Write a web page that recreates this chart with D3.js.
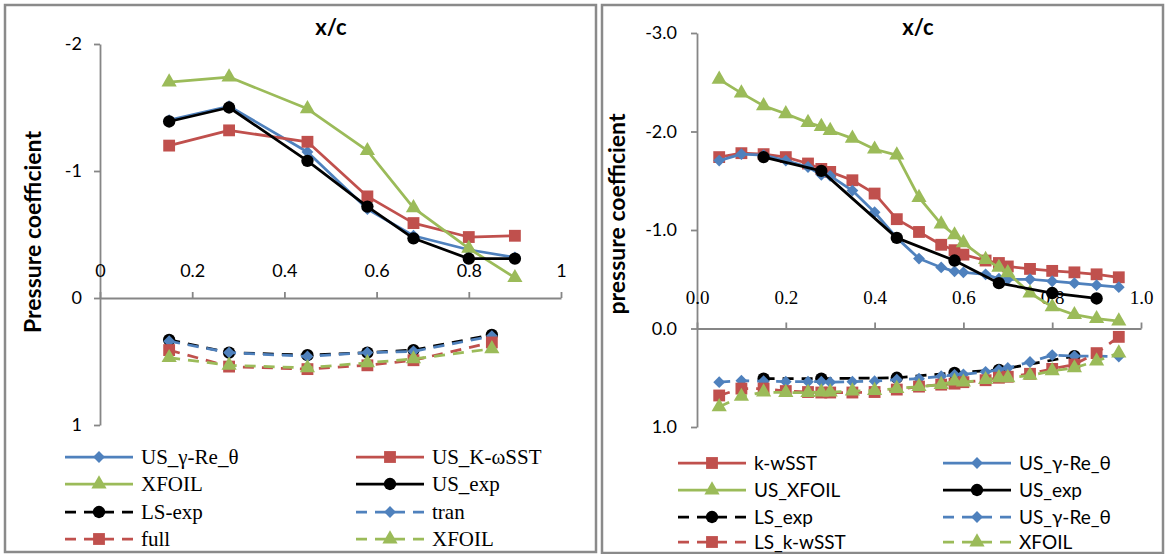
<!DOCTYPE html>
<html>
<head>
<meta charset="utf-8">
<script src="https://cdn.jsdelivr.net/npm/d3@7"></script>
<style>
  body { margin: 0; background: #fff; }
  svg { display: block; }
</style>
</head>
<body>
<svg id="chart" width="1166" height="554"></svg>
<script>
// ---- left chart data (x/c, pressure coefficient) ----
const leftUpperX = [0.15, 0.28, 0.45, 0.58, 0.68, 0.80, 0.90];
const leftLowerX = [0.15, 0.28, 0.45, 0.58, 0.68, 0.85];
const leftUsGamma = [-1.40, -1.51, -1.15, -0.70, -0.49, -0.38, -0.32];
const leftUsKw = [-1.20, -1.32, -1.23, -0.80, -0.59, -0.48, -0.49];
const leftXfoil = [-1.70, -1.74, -1.49, -1.16, -0.71, -0.39, -0.16];
const leftUsExp = [-1.39, -1.50, -1.08, -0.72, -0.47, -0.31, -0.31];
const leftLsExp = [0.33, 0.43, 0.45, 0.43, 0.41, 0.29];
const leftTran = [0.34, 0.43, 0.46, 0.43, 0.42, 0.30];
const leftFull = [0.41, 0.54, 0.56, 0.53, 0.49, 0.35];
const leftXfoilLower = [0.47, 0.53, 0.55, 0.51, 0.48, 0.40];
const leftXTicks = [0, 0.2, 0.4, 0.6, 0.8, 1];
const leftYTicks = [-2, -1, 0, 1];

// ---- right chart data ----
const rightX = [0.05, 0.10, 0.15, 0.20, 0.25, 0.28, 0.30, 0.35, 0.40, 0.45, 0.50,
                0.55, 0.58, 0.60, 0.65, 0.68, 0.70, 0.75, 0.80, 0.85, 0.90, 0.95];
const rightExpX = [0.15, 0.28, 0.45, 0.58, 0.68, 0.80, 0.90];
const rightLsExpX = [0.15, 0.28, 0.45, 0.58, 0.68, 0.85];
const rightKw = [-1.74, -1.78, -1.77, -1.74, -1.675, -1.62, -1.59, -1.505, -1.37, -1.11, -0.98,
                 -0.85, -0.795, -0.75, -0.69, -0.665, -0.63, -0.605, -0.585, -0.57, -0.55, -0.52];
const rightUsGamma = [-1.705, -1.77, -1.76, -1.705, -1.64, -1.56, -1.55, -1.40, -1.18, -0.92, -0.71,
                      -0.62, -0.58, -0.57, -0.55, -0.505, -0.50, -0.50, -0.48, -0.46, -0.44, -0.42];
const rightUsXfoil = [-2.53, -2.39, -2.26, -2.18, -2.09, -2.05, -2.01, -1.93, -1.82, -1.76, -1.33,
                      -1.06, -0.95, -0.87, -0.70, -0.62, -0.565, -0.36, -0.22, -0.14, -0.10, -0.075];
const rightUsExp = [-1.74, -1.60, -0.92, -0.69, -0.46, -0.36, -0.305];
const rightLsExp = [0.51, 0.51, 0.50, 0.45, 0.42, 0.28];
const rightLsGamma = [0.545, 0.53, 0.535, 0.54, 0.54, 0.54, 0.545, 0.54, 0.535, 0.52, 0.51,
                      0.485, 0.47, 0.465, 0.44, 0.42, 0.40, 0.34, 0.27, 0.28, 0.28, 0.285];
const rightLsKw = [0.68, 0.61, 0.61, 0.635, 0.645, 0.65, 0.65, 0.65, 0.645, 0.62, 0.59,
                   0.57, 0.56, 0.545, 0.525, 0.50, 0.49, 0.46, 0.41, 0.365, 0.25, 0.085];
const rightLsXfoil = [0.795, 0.69, 0.645, 0.65, 0.65, 0.645, 0.645, 0.635, 0.63, 0.61, 0.59,
                      0.57, 0.535, 0.545, 0.52, 0.50, 0.50, 0.477, 0.43, 0.40, 0.33, 0.25];
const rightXTicks = [0, 0.2, 0.4, 0.6, 0.8, 1.0];
const rightYTicks = [-3, -2, -1, 0, 1];

const BLUE = "#4f81bd", RED = "#c0504d", GREEN = "#9bbb59", BLACK = "#000";
const SANS = "Lato, 'Liberation Sans', sans-serif";
const SERIF = "'Liberation Serif', 'DejaVu Serif', serif";

const svg = d3.select("#chart");

function markerPath(kind) {
    if (kind === "square") return d3.symbol(d3.symbolSquare, 140)();
    if (kind === "circle") return d3.symbol(d3.symbolCircle, 120)();
    if (kind === "triangle") return d3.symbol(d3.symbolTriangle, 100)();
    // diamond: rotated square
    return d3.symbol(d3.symbolSquare, 70)();
}

function drawMarker(g, kind, color, x, y) {
    g.append("path")
        .attr("d", markerPath(kind))
        .attr("fill", color)
        .attr("transform", `translate(${x},${y})` + (kind === "diamond" ? " rotate(45)" : ""));
}

function drawPanel(opt) {
    const g = svg.append("g");

    // panel frame
    g.append("rect")
        .attr("x", opt.frame[0]).attr("y", opt.frame[1])
        .attr("width", opt.frame[2]).attr("height", opt.frame[3])
        .attr("fill", "none").attr("stroke", "#8a8a8a").attr("stroke-width", 2.5);

    const x = d3.scaleLinear().domain([0, 1]).range(opt.xRange);
    const y = d3.scaleLinear().domain(opt.yDomain).range(opt.yRange);

    // y axis
    const ya = g.append("g")
        .attr("transform", `translate(${opt.xRange[0]},0)`)
        .call(d3.axisLeft(y).tickValues(opt.yTicks).tickSize(6).tickPadding(opt.yPad)
            .tickFormat(opt.yFmt).tickSizeOuter(0));
    ya.select(".domain").attr("stroke", "#868686").attr("stroke-width", 1.8);
    ya.selectAll(".tick line").attr("stroke", "#868686").attr("stroke-width", 1.8);
    ya.selectAll("text").attr("font-family", SANS).attr("font-size", 18).attr("fill", "#000");

    // x axis through cp = 0, labels above
    const xa = g.append("g")
        .attr("transform", `translate(0,${y(0)})`)
        .call(d3.axisTop(x).tickValues(opt.xTicks).tickSize(6).tickPadding(opt.xPad)
            .tickFormat(opt.xFmt).tickSizeOuter(0));
    xa.select(".domain").attr("stroke", "#868686").attr("stroke-width", 1.8);
    xa.selectAll(".tick line").attr("stroke", "#868686").attr("stroke-width", 1.8);
    xa.selectAll("text").attr("font-family", opt.xFont).attr("font-size", opt.xSize).attr("fill", "#000");

    // title and axis label
    g.append("text")
        .attr("x", opt.title[0]).attr("y", opt.title[1])
        .attr("text-anchor", "middle")
        .attr("font-family", SANS).attr("font-weight", "bold").attr("font-size", 22)
        .text("x/c");
    g.append("text")
        .attr("transform", `translate(${opt.yLabel[0]},${opt.yLabel[1]}) rotate(-90)`)
        .attr("text-anchor", "middle")
        .attr("font-family", SANS).attr("font-weight", "bold").attr("font-size", 23)
        .text(opt.yLabelText);

    const line = d3.line().x(d => x(d[0])).y(d => y(d[1]));

    opt.series.forEach(s => {
        const pts = s.xs.map((v, i) => [v, s.ys[i]]);
        g.append("path")
            .datum(pts)
            .attr("fill", "none")
            .attr("stroke", s.color)
            .attr("stroke-width", 2.75)
            .attr("stroke-linejoin", "round")
            .attr("stroke-dasharray", s.dashed ? "11,8" : null)
            .attr("d", line);
        pts.forEach(p => drawMarker(g, s.marker, s.color, x(p[0]), y(p[1])));
    });

    // legend, two columns filled row by row
    opt.series.forEach((s, i) => {
        const col = i % 2, row = Math.floor(i / 2);
        const cx = opt.legCols[col], cy = opt.legRows[row];
        g.append("line")
            .attr("x1", cx - 34).attr("x2", cx + 34)
            .attr("y1", cy).attr("y2", cy)
            .attr("stroke", s.color).attr("stroke-width", 2.75)
            .attr("stroke-dasharray", s.dashed ? "11,8" : null);
        drawMarker(g, s.marker, s.color, cx, cy);
        g.append("text")
            .attr("x", opt.legText[col]).attr("y", cy)
            .attr("dy", "0.35em")
            .attr("font-family", opt.legFont).attr("font-size", opt.legSize)
            .text(s.name);
    });
}

drawPanel({
    frame: [5, 5, 591, 547],
    xRange: [100, 561], yDomain: [-2, 1], yRange: [44, 425],
    xTicks: leftXTicks, yTicks: leftYTicks,
    xFmt: d => String(d), yFmt: d => String(d),
    xPad: 15, yPad: 12, xFont: SANS, xSize: 18,
    title: [331, 35], yLabel: [41, 232], yLabelText: "Pressure coefficient",
    legCols: [99, 390], legText: [141, 432], legRows: [457, 484, 512, 539],
    legFont: SERIF, legSize: 21,
    series: [
        { name: "US_γ-Re_θ", xs: leftUpperX, ys: leftUsGamma, color: BLUE, marker: "diamond" },
        { name: "US_K-ωSST", xs: leftUpperX, ys: leftUsKw, color: RED, marker: "square" },
        { name: "XFOIL", xs: leftUpperX, ys: leftXfoil, color: GREEN, marker: "triangle" },
        { name: "US_exp", xs: leftUpperX, ys: leftUsExp, color: BLACK, marker: "circle" },
        { name: "LS-exp", xs: leftLowerX, ys: leftLsExp, color: BLACK, marker: "circle", dashed: true },
        { name: "tran", xs: leftLowerX, ys: leftTran, color: BLUE, marker: "diamond", dashed: true },
        { name: "full", xs: leftLowerX, ys: leftFull, color: RED, marker: "square", dashed: true },
        { name: "XFOIL", xs: leftLowerX, ys: leftXfoilLower, color: GREEN, marker: "triangle", dashed: true }
    ]
});

drawPanel({
    frame: [602, 5, 561, 548],
    xRange: [697, 1141], yDomain: [-3, 1], yRange: [33, 427],
    xTicks: rightXTicks, yTicks: rightYTicks,
    xFmt: d => d.toFixed(1), yFmt: d => d.toFixed(1),
    xPad: 19, yPad: 14, xFont: SERIF, xSize: 19,
    title: [918, 35], yLabel: [625, 214], yLabelText: "pressure coefficient",
    legCols: [712, 977], legText: [754, 1019], legRows: [463, 490, 517, 542],
    legFont: SANS, legSize: 19,
    series: [
        { name: "k-wSST", xs: rightX, ys: rightKw, color: RED, marker: "square" },
        { name: "US_γ-Re_θ", xs: rightX, ys: rightUsGamma, color: BLUE, marker: "diamond" },
        { name: "US_XFOIL", xs: rightX, ys: rightUsXfoil, color: GREEN, marker: "triangle" },
        { name: "US_exp", xs: rightExpX, ys: rightUsExp, color: BLACK, marker: "circle" },
        { name: "LS_exp", xs: rightLsExpX, ys: rightLsExp, color: BLACK, marker: "circle", dashed: true },
        { name: "US_γ-Re_θ", xs: rightX, ys: rightLsGamma, color: BLUE, marker: "diamond", dashed: true },
        { name: "LS_k-wSST", xs: rightX, ys: rightLsKw, color: RED, marker: "square", dashed: true },
        { name: "XFOIL", xs: rightX, ys: rightLsXfoil, color: GREEN, marker: "triangle", dashed: true }
    ]
});
</script>
</body>
</html>
